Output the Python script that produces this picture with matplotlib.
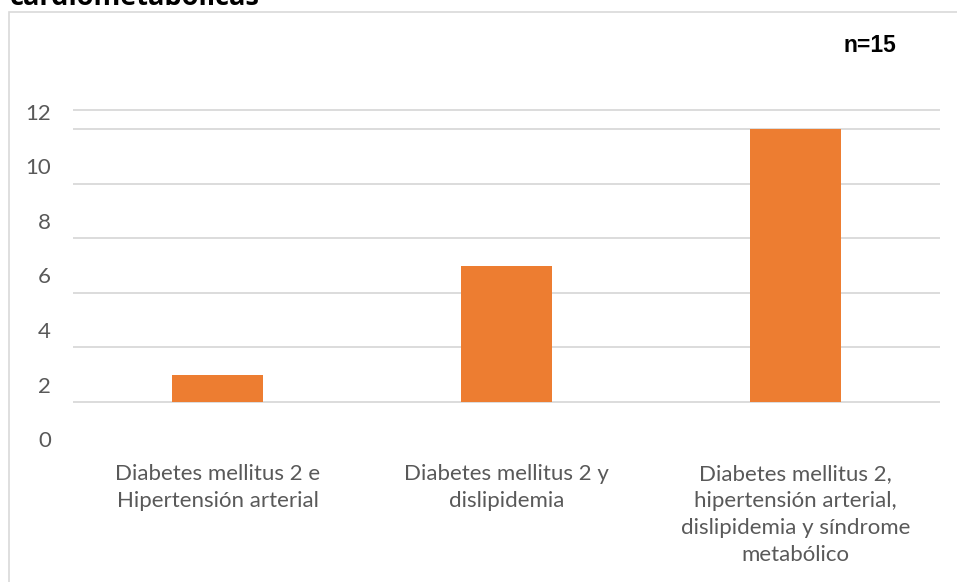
import matplotlib
matplotlib.use("Agg")
import matplotlib.pyplot as plt
from matplotlib.patches import Rectangle

plt.rcParams['font.family'] = ['Lato', 'DejaVu Sans']

# datos
categorias = ["Diabetes mellitus 2 e\nHipertensión arterial",
              "Diabetes mellitus 2 y\ndislipidemia",
              "Diabetes mellitus 2,\nhipertensión arterial,\ndislipidemia y síndrome\nmetabólico"]
valores = [1, 5, 10]
ytick_vals = [0, 2, 4, 6, 8, 10, 12]
grid_vals = [0, 2, 4, 6, 8, 10, 10.7]
ytick_shift = -1.36   # etiquetas del eje y desplazadas respecto a la rejilla

naranja = '#ED7D31'
gris_rej = '#D9D9D9'
gris_txt = '#595959'

fig = plt.figure(figsize=(9.57, 5.82), dpi=100)
W, H = 957, 582

# marco del grafico (abierto por abajo y a la derecha)
fig.patches.append(Rectangle((8.5 / W, -0.05), 1.2, 1.05 - 11.5 / H,
                             transform=fig.transFigure, fill=False,
                             edgecolor=gris_rej, lw=1.2))

fig.text(10 / W, 1 - 5 / H, "cardiometabólicas", fontsize=19.5, fontweight='bold',
         va='baseline', ha='left', color='black',
         family=['Open Sans', 'DejaVu Sans'])

ymin, ymax = -2, 12
px_unit = 27.3
top_px = 402 - px_unit * ymax
bot_px = 402 - px_unit * ymin
ax = fig.add_axes([73 / W, 1 - bot_px / H, 867 / W, (bot_px - top_px) / H])

for g in grid_vals:
    ax.axhline(g, color=gris_rej, lw=1.3, zorder=0)

x = range(len(categorias))
ax.bar(x, valores, width=0.315, color=naranja, zorder=2)

ax.set_xlim(-0.5, 2.5)
ax.set_ylim(ymin, ymax)
ax.set_xticks(list(x))
ax.set_xticklabels(categorias, fontsize=16, color=gris_txt, linespacing=1.44)
ax.set_yticks([v + ytick_shift for v in ytick_vals])
ax.set_yticklabels([str(v) for v in ytick_vals], fontsize=16, color=gris_txt)
ax.tick_params(axis='both', length=0)
ax.tick_params(axis='y', pad=16)
ax.tick_params(axis='x', pad=5.5)
for s in ax.spines.values():
    s.set_visible(False)

fig.text(896 / W, 1 - 45 / H, "n=15", fontsize=16.5, fontweight='bold',
         ha='right', va='center', family=['Liberation Sans', 'DejaVu Sans'])

fig.savefig('out.png', dpi=100)
